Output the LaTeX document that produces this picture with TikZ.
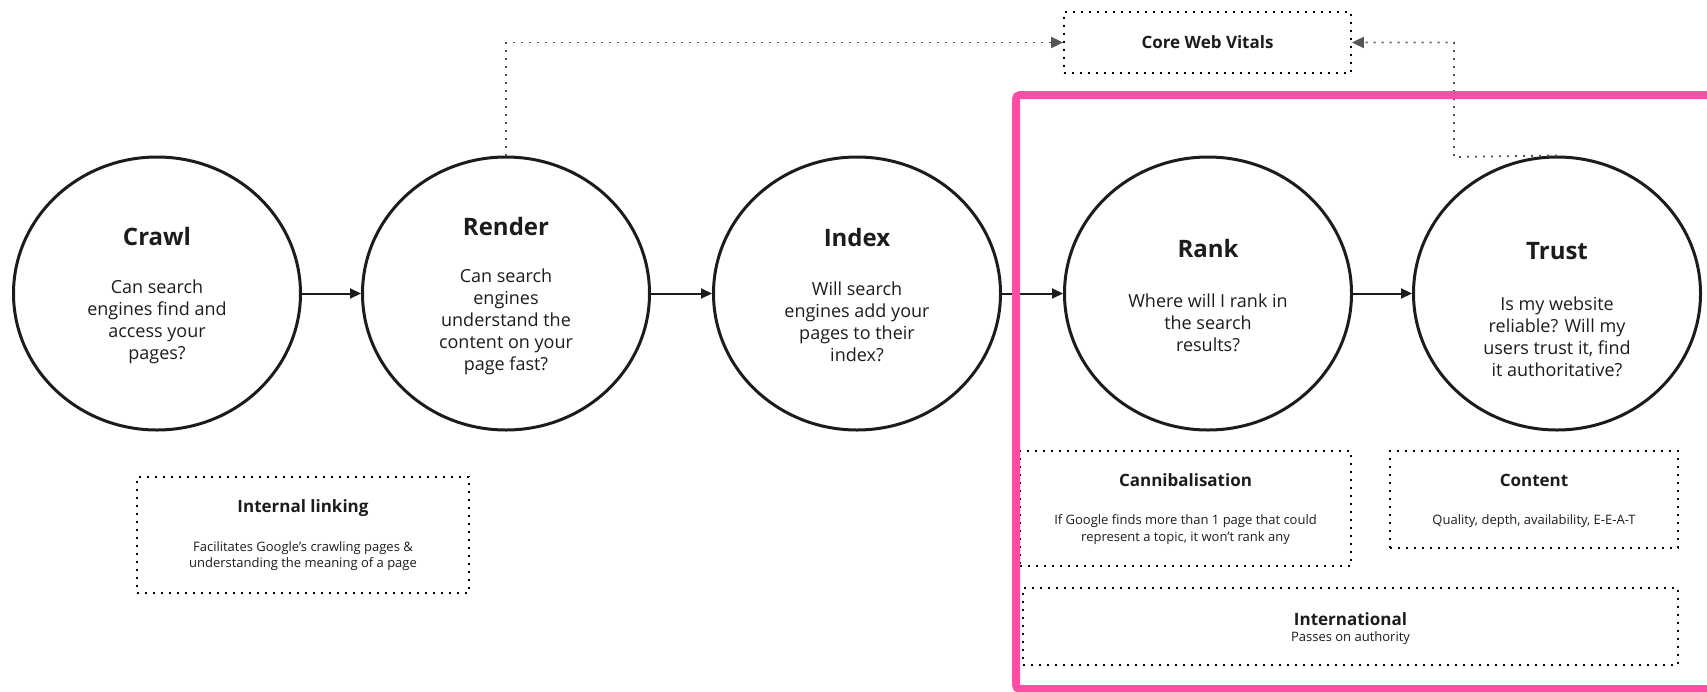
\documentclass[tikz,border=0pt]{standalone}
\usepackage{fontspec}
\setmainfont{Open Sans}
\usetikzlibrary{shapes.geometric,arrows.meta}
\definecolor{hotpink}{HTML}{FF4DA6}
\definecolor{linkgray}{HTML}{555555}
\definecolor{ink}{HTML}{1C1C1C}

\begin{document}
\begin{tikzpicture}[x=1pt, y=-1pt,
  stage/.style={ellipse, draw=ink, line width=3pt, minimum width=287pt, minimum height=273pt, inner sep=0pt},
  ttl/.style={text=ink, inner sep=0pt, font=\fontsize{24}{28}\selectfont\bfseries},
  txt/.style={text=ink, align=center, inner sep=0pt, font=\fontsize{18}{22}\selectfont},
  note/.style={draw=black, line width=1.8pt, dash pattern=on 1.8pt off 6.2pt, inner sep=0pt},
  notettl/.style={text=ink, inner sep=0pt, font=\fontsize{17}{20}\selectfont\bfseries},
  notetxt/.style={text=ink, align=center, inner sep=0pt, font=\fontsize{13}{15.5}\selectfont},
  flow/.style={draw=ink, line width=2pt, -{Triangle[length=11pt, width=10pt]}},
  link/.style={draw=linkgray, line width=1.8pt, dash pattern=on 1.8pt off 6.2pt,
    -{Triangle[length=12pt, width=11pt, fill=linkgray]}},
  frame/.style={draw=hotpink, line width=8pt, rounded corners=4pt},
  ]
  \useasboundingbox (0,0) rectangle (1707,691);
  % the five stages
  \node[stage] (crawl) at (157,293.5) {};
  \node[stage] (render) at (506,293.5) {};
  \node[stage] (index) at (857,293.5) {};
  \node[stage] (rank) at (1208,293.5) {};
  \node[stage] (trust) at (1557,293.5) {};
  \node[ttl] (crawl-t) at (157,236) {Crawl};
  \node[txt] (crawl-b) at (157,322) {Can search\\engines find and\\access your\\pages?};
  \node[ttl] (render-t) at (506,226) {Render};
  \node[txt] (render-b) at (506,322) {Can search\\engines\\understand the\\content on your\\page fast?};
  \node[ttl] (index-t) at (857,237) {Index};
  \node[txt] (index-b) at (857,322) {Will search\\engines add your\\pages to their\\index?};
  \node[ttl] (rank-t) at (1208,248) {Rank};
  \node[txt] (rank-b) at (1208,323) {Where will I rank in\\the search\\results?};
  \node[ttl] (trust-t) at (1557,251) {Trust};
  \node[txt] (trust-b) at (1557,337) {Is my website\\reliable? Will my\\users trust it, find\\it authoritative?};
  \draw[flow] (crawl) -- (render);
  \draw[flow] (render) -- (index);
  \draw[flow] (index) -- (rank);
  \draw[flow] (rank) -- (trust);
  % core web vitals
  \node[note, minimum width=287pt, minimum height=61pt] (cwv) at (1207.5,42.5) {};
  \node[notettl] (cwv-t) at (1207.5,42.5) {Core Web Vitals};
  \coordinate (bend) at (1454,157);
  \draw[link] (render.north) |- (cwv.west);
  \draw[link] (trust.north) -- (bend) |- (cwv.east);
  % notes under the stages
  \node[note, minimum width=332pt, minimum height=116pt] (linking) at (303,535) {};
  \node[notettl] (linking-t) at (303,508) {Internal linking};
  \node[notetxt] (linking-b) at (303,556) {Facilitates Google’s crawling pages \&\\understanding the meaning of a page};
  \node[note, minimum width=331pt, minimum height=115pt] (cannib) at (1185.5,508.5) {};
  \node[notettl] (cannib-t) at (1185.5,480) {Cannibalisation};
  \node[notetxt, font=\fontsize{13}{17}\selectfont] (cannib-b) at (1185.5,529.5) {If Google finds more than 1 page that could\\represent a topic, it won’t rank any};
  \node[note, minimum width=288pt, minimum height=97pt] (content) at (1534,499.5) {};
  \node[notettl] (content-t) at (1534,480) {Content};
  \node[notetxt] (content-b) at (1534,521) {Quality, depth, availability, E-E-A-T};
  \node[note, minimum width=655pt, minimum height=77pt] (intl) at (1350.5,626.5) {};
  \node[notettl] (intl-t) at (1350.5,619) {International};
  \node[notetxt] (intl-b) at (1350.5,638) {Passes on authority};
  % pink frame round rank and trust
  \draw[frame] (1016,95) rectangle (1740,689);
\end{tikzpicture}
\end{document}
